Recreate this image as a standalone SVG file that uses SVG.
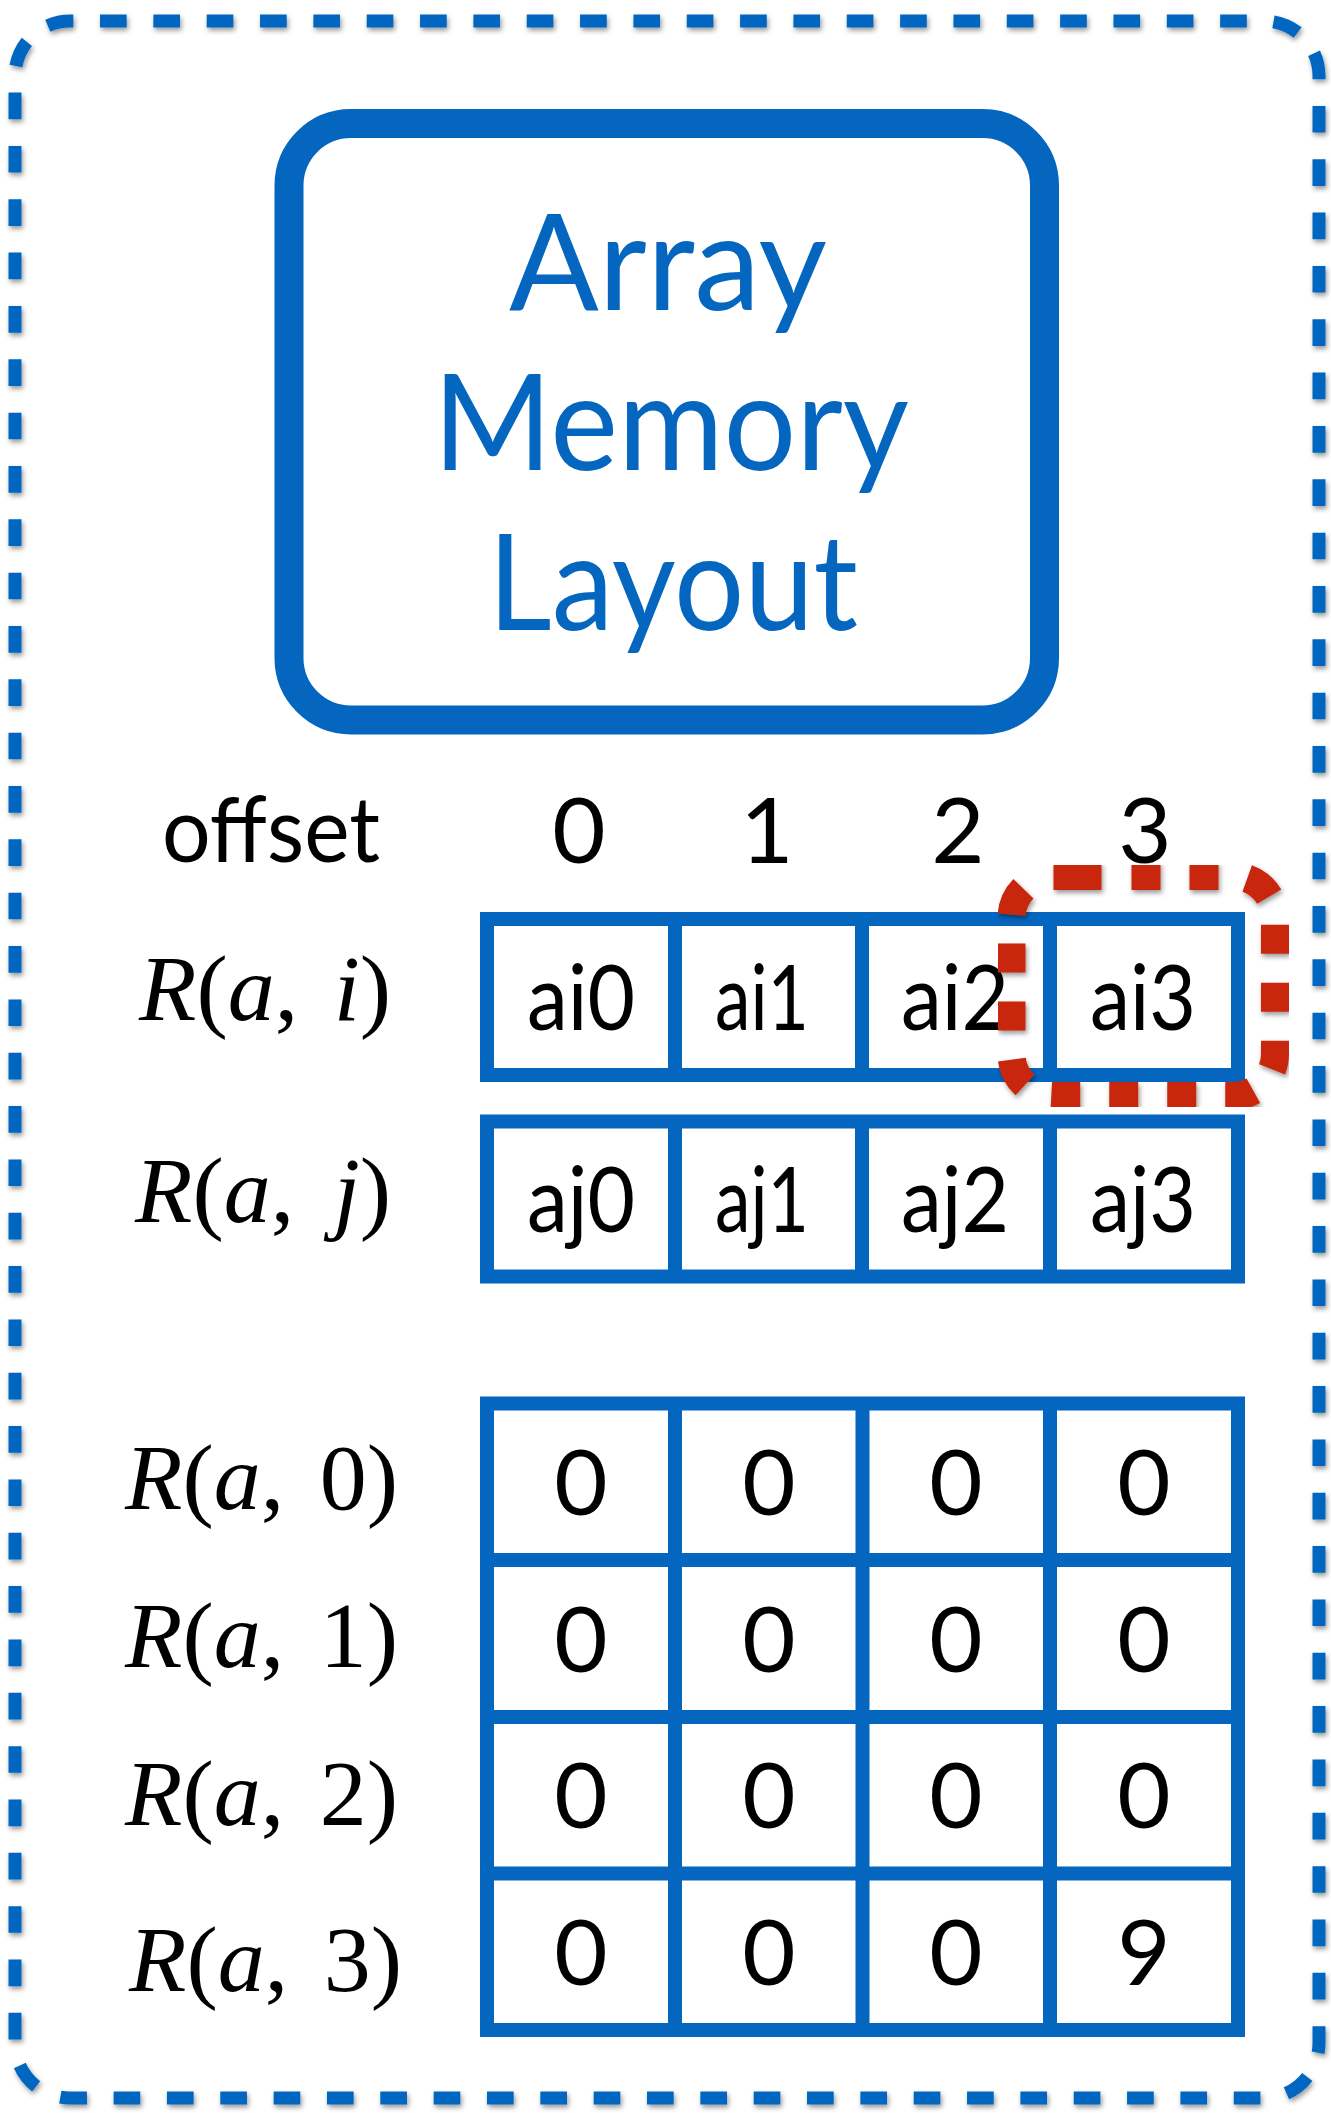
<svg xmlns="http://www.w3.org/2000/svg" width="1331" height="2113" viewBox="0 0 1331 2113">
  <defs>
    <filter id="dash-shadow" x="-5%" y="-5%" width="110%" height="110%">
      <feDropShadow dx="1.5" dy="3" stdDeviation="2.5" flood-color="#000" flood-opacity="0.4"/>
    </filter>
    <style>
      .blue { fill: none; stroke: #0566C0; }
      .frame { stroke-width: 13; stroke-dasharray: 26.67 26.67; stroke-dashoffset: 23.33; }
      .title-box { stroke-width: 29; }
      .grid { stroke-width: 14; stroke-linejoin: miter; }
      .title { font-family: Lato, "Liberation Sans", sans-serif; font-size: 133px; fill: #0566C0; text-anchor: middle; }
      .sans { font-family: Lato, "Liberation Sans", sans-serif; font-size: 92px; fill: #000; }
      .mid { text-anchor: middle; }
      .math { font-family: "Liberation Serif", "Times New Roman", serif; font-size: 94px; fill: #000; }
      .it { font-style: italic; }
      .highlight { fill: none; stroke: #C8260A; stroke-width: 28;
        stroke-dasharray: 48 30 29 29 29 29 29 29 29 29 29 29 29 29 29 29 29 29 29 29 29 29 29 29 29 29 29 29 29 35; }
    </style>
  </defs>

  <rect width="1331" height="2113" fill="#fff"/>

  <!-- dashed outer frame -->
  <g id="frame">
    <rect class="blue frame" x="15" y="21" width="1304" height="2077" rx="55" ry="55" filter="url(#dash-shadow)"/>
  </g>

  <!-- title card -->
  <g id="title">
    <rect class="blue title-box" x="289" y="123.5" width="755.5" height="596.5" rx="62" ry="62"/>
    <text class="title" x="668" y="310" textLength="318" lengthAdjust="spacingAndGlyphs">Array</text>
    <text class="title" x="671" y="470" textLength="476" lengthAdjust="spacingAndGlyphs">Memory</text>
    <text class="title" x="673" y="630" textLength="370" lengthAdjust="spacingAndGlyphs">Layout</text>
  </g>

  <!-- offset header -->
  <g id="offset-header">
    <text class="sans" x="162" y="862" textLength="218" lengthAdjust="spacingAndGlyphs">offset</text>
    <text class="sans mid" x="579" y="863">0</text>
    <text class="sans mid" x="767" y="863">1</text>
    <text class="sans mid" x="958" y="863">2</text>
    <text class="sans mid" x="1145" y="863">3</text>
  </g>

  <!-- row R(a, i) -->
  <g id="row-i">
    <text class="math" x="139" y="1020"><tspan class="it">R</tspan>(<tspan class="it">a</tspan>, <tspan class="it" dx="12">i</tspan>)</text>
    <rect class="blue grid" x="487" y="919" width="751" height="156"/>
    <path class="blue grid" d="M675 919V1075M862 919V1075M1050 919V1075"/>
    <text class="sans mid" x="581" y="1030" textLength="108" lengthAdjust="spacingAndGlyphs">ai0</text>
    <text class="sans mid" x="762" y="1030" textLength="94" lengthAdjust="spacingAndGlyphs">ai1</text>
    <text class="sans mid" x="955" y="1030" textLength="108" lengthAdjust="spacingAndGlyphs">ai2</text>
    <text class="sans mid" x="1143" y="1030" textLength="106" lengthAdjust="spacingAndGlyphs">ai3</text>
  </g>

  <!-- row R(a, j) -->
  <g id="row-j">
    <text class="math" x="135" y="1222"><tspan class="it">R</tspan>(<tspan class="it">a</tspan>, <tspan class="it" dx="16">j</tspan>)</text>
    <rect class="blue grid" x="487" y="1121.5" width="751" height="155"/>
    <path class="blue grid" d="M675 1121.5V1276.5M862 1121.5V1276.5M1050 1121.5V1276.5"/>
    <text class="sans mid" x="581" y="1232" textLength="108" lengthAdjust="spacingAndGlyphs">aj0</text>
    <text class="sans mid" x="762" y="1232" textLength="94" lengthAdjust="spacingAndGlyphs">aj1</text>
    <text class="sans mid" x="955" y="1232" textLength="108" lengthAdjust="spacingAndGlyphs">aj2</text>
    <text class="sans mid" x="1143" y="1232" textLength="106" lengthAdjust="spacingAndGlyphs">aj3</text>
  </g>

  <!-- highlight around ai3 -->
  <g id="highlight">
    <rect class="highlight" x="1011.5" y="876" width="263.5" height="220" rx="42" ry="42" filter="url(#dash-shadow)"/>
  </g>

  <!-- 4x4 matrix -->
  <g id="matrix">
    <rect class="blue grid" x="487" y="1403.5" width="751" height="626.5"/>
    <path class="blue grid" d="M675 1403.5V2030M862.5 1403.5V2030M1050 1403.5V2030M487 1560H1238M487 1717H1238M487 1873.5H1238"/>
    <g class="sans mid">
      <text x="581" y="1515">0</text><text x="769" y="1515">0</text><text x="956" y="1515">0</text><text x="1144" y="1515">0</text>
      <text x="581" y="1672">0</text><text x="769" y="1672">0</text><text x="956" y="1672">0</text><text x="1144" y="1672">0</text>
      <text x="581" y="1828">0</text><text x="769" y="1828">0</text><text x="956" y="1828">0</text><text x="1144" y="1828">0</text>
      <text x="581" y="1985">0</text><text x="769" y="1985">0</text><text x="956" y="1985">0</text><text x="1144" y="1985">9</text>
    </g>
  </g>

  <!-- matrix row labels -->
  <g id="matrix-labels">
    <text class="math" x="125" y="1509"><tspan class="it">R</tspan>(<tspan class="it">a</tspan>, <tspan dx="12">0</tspan>)</text>
    <text class="math" x="125" y="1667"><tspan class="it">R</tspan>(<tspan class="it">a</tspan>, <tspan dx="12">1</tspan>)</text>
    <text class="math" x="125" y="1825"><tspan class="it">R</tspan>(<tspan class="it">a</tspan>, <tspan dx="12">2</tspan>)</text>
    <text class="math" x="129" y="1991"><tspan class="it">R</tspan>(<tspan class="it">a</tspan>, <tspan dx="12">3</tspan>)</text>
  </g>
</svg>
